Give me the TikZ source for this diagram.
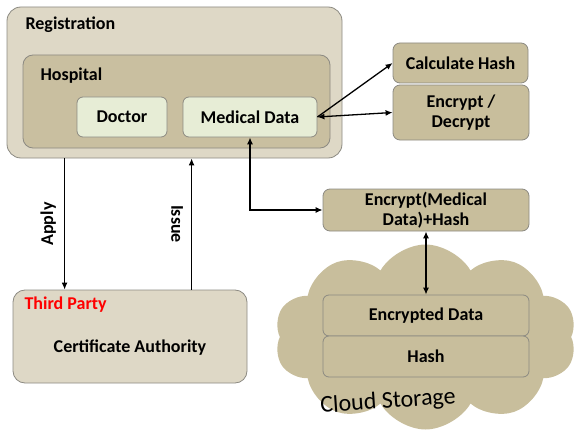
\documentclass[tikz,border=0pt]{standalone}
\usepackage{fontspec}
\setmainfont{Carlito}
\usetikzlibrary{shapes.symbols,arrows.meta}

\definecolor{regfill}{RGB}{222,216,198}
\definecolor{hospfill}{RGB}{201,191,160}
\definecolor{docfill}{RGB}{231,237,214}
\definecolor{opfill}{RGB}{200,190,156}
\definecolor{boxline}{RGB}{140,138,130}

\begin{document}
\begin{tikzpicture}[x=1pt,y=-1pt,
    font=\bfseries\fontsize{18}{20}\selectfont,
    panel/.style={draw=boxline,line width=0.8pt,rounded corners=10pt},
    opbox/.style={panel,fill=opfill,rounded corners=7pt,align=center},
    link/.style={line width=1.3pt,-{Latex[length=7pt,width=6pt]}},
    twoway/.style={link,{Latex[length=7pt,width=6pt]}-{Latex[length=7pt,width=6pt]}}]
\useasboundingbox (0,0) rectangle (579,436);

% registration with the hospital inside
\node[panel,fill=regfill,rounded corners=14pt,minimum width=335,minimum height=151] (reg) at (174.5,82.5) {};
\node[anchor=west] (regtitle) at (22,25) {Registration};
\node[panel,fill=hospfill,minimum width=307,minimum height=93] (hosp) at (176.5,101.5) {};
\node[anchor=west] (hosptitle) at (37,76) {Hospital};
\node[panel,fill=docfill,rounded corners=6pt,minimum width=90,minimum height=40] (doc) at (122,117) {Doctor};
\node[panel,fill=docfill,rounded corners=6pt,minimum width=134,minimum height=40] (md) at (250,117) {Medical Data};

% operations on the right
\node[opbox,minimum width=135,minimum height=40] (calc) at (460.5,63) {Calculate Hash};
\node[opbox,minimum width=136,minimum height=55] (encdec) at (461,112.5) {Encrypt /\\Decrypt};
\node[opbox,minimum width=206,minimum height=42,inner sep=1pt] (encmd) at (426,210) {Encrypt(Medical\\Data)+Hash};

% third party
\node[panel,fill=regfill,rounded corners=12pt,minimum width=234,minimum height=93] (tp) at (130,336.5) {};
\node[anchor=west,text=red] (tptitle) at (21,305) {Third Party};
\node (ca) at (130,348) {Certificate Authority};

% cloud storage
\node[cloud,cloud puffs=10,cloud puff arc=120,aspect=1.6,fill=opfill,minimum width=302,minimum height=185] (cloud) at (425.5,337) {};
\node[opbox,rounded corners=6pt,minimum width=206,minimum height=41] (encdata) at (426,315.5) {Encrypted Data};
\node[opbox,rounded corners=6pt,minimum width=206,minimum height=41] (hash) at (426,356.5) {Hash};
\node[font=\fontsize{24}{26}\selectfont,rotate=4] (cloudname) at (388,402) {Cloud Storage};

% connections
\draw[link] (md.east) -- (calc.west);
\draw[twoway] (md.east) -- (encdec.west);
\draw[twoway] (md.south) |- (encmd.west);
\draw[twoway] (encmd.south) -- (encdata.north);
\draw[link] ([xshift=52]tp.north west |- reg.south) -- ([xshift=52]tp.north west)
    node[midway,rotate=90,anchor=south,inner sep=8pt] {Apply};
\draw[link] ([xshift=179]tp.north west) -- ([xshift=179]tp.north west |- reg.south)
    node[midway,rotate=-90,anchor=north,inner sep=8pt] {Issue};
\end{tikzpicture}
\end{document}
